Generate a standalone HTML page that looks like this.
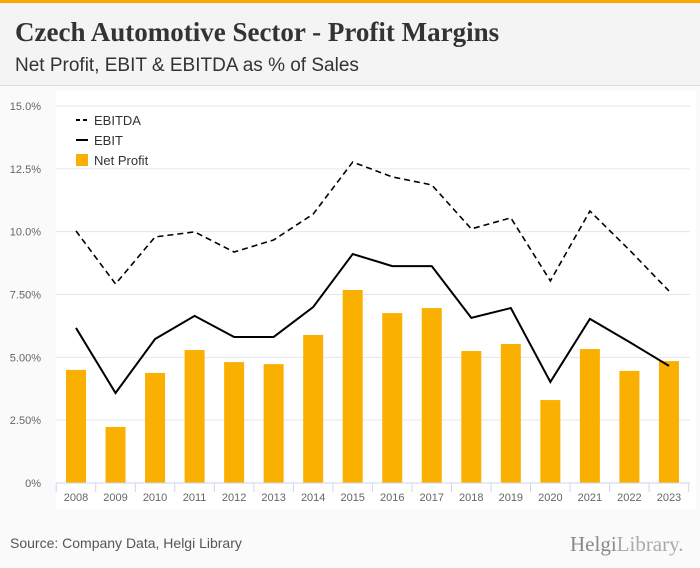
<!DOCTYPE html>
<html><head><meta charset="utf-8"><style>
html,body{margin:0;width:700px;height:568px;overflow:hidden}
body{background:#fafafa;font-family:"Liberation Sans",sans-serif;position:relative}
#top{position:absolute;left:0;top:0;width:700px;height:3px;background:#f5a800}
#hdr{position:absolute;left:0;top:3px;width:700px;height:82px;background:#f4f4f4;border-bottom:1px solid #ddd}
h1{position:absolute;left:15px;top:14px;margin:0;font:bold 27px "Liberation Serif",serif;color:#333;white-space:nowrap}
h2{position:absolute;left:15px;top:52px;margin:0;font:19px "Liberation Sans",sans-serif;color:#333;font-weight:normal;white-space:nowrap}
#src{position:absolute;left:10px;top:535px;font-size:14px;color:#555;white-space:nowrap}
#logo{position:absolute;left:570px;top:532px;font:21px "Liberation Serif",serif;color:#888;white-space:nowrap}
svg{position:absolute;left:0;top:0}
</style></head><body>
<div id="top"></div>
<div id="hdr">
<h1>Czech Automotive Sector - Profit Margins</h1>
<h2>Net Profit, EBIT &amp; EBITDA as % of Sales</h2></div>
<svg id="c" width="700" height="568"></svg>
<div id="src">Source: Company Data, Helgi Library</div>
<div id="logo">Helgi<span style="color:#aaa">Library.</span></div>
<script>
const years=[2008,2009,2010,2011,2012,2013,2014,2015,2016,2017,2018,2019,2020,2021,2022,2023];
const netProfit=[4.5,2.23,4.38,5.29,4.81,4.73,5.89,7.68,6.76,6.96,5.25,5.53,3.3,5.33,4.46,4.85];
const ebit=[6.17,3.58,5.73,6.65,5.81,5.81,7.0,9.11,8.63,8.63,6.57,6.96,4.02,6.53,5.61,4.66];
const ebitda=[10.03,7.92,9.79,9.99,9.19,9.67,10.7,12.77,12.18,11.86,10.11,10.55,8.04,10.82,9.27,7.64];
const yTicks=[0,2.5,5,7.5,10,12.5,15];
const yLabels=["0%","2.50%","5.00%","7.50%","10.0%","12.5%","15.0%"];
const ns="http://www.w3.org/2000/svg",svg=document.getElementById('c');
const y=v=>483-v*(377/15), x=i=>76+i*39.53;
function mk(t,a,p){const e=document.createElementNS(ns,t);for(const k in a)e.setAttribute(k,a[k]);(p||svg).appendChild(e);return e;}
mk('rect',{x:56,y:90,width:640,height:420,fill:'#fff'});
yTicks.forEach((v,i)=>{
 const g=mk('line',{x1:56,x2:690,y1:y(v),y2:y(v),stroke:'#e6e6e6'});
 
 const t=mk('text',{x:41,y:y(v)+4,'text-anchor':'end','font-size':11,fill:'#666'});t.textContent=yLabels[i];
 
});
years.forEach((yr,i)=>{
 const b=mk('rect',{x:x(i)-10,y:y(netProfit[i]),width:20,height:483-y(netProfit[i]),fill:'#f9b000'});
 
 const t=mk('text',{x:x(i),y:501,'text-anchor':'middle','font-size':11,fill:'#666'});t.textContent=yr;
 
 mk('line',{x1:x(i)-19.8,x2:x(i)-19.8,y1:483,y2:492,stroke:'#ccd6eb'});
});
mk('line',{x1:x(15)+19.8,x2:x(15)+19.8,y1:483,y2:492,stroke:'#ccd6eb'});
const ax=mk('line',{x1:56,x2:690,y1:483,y2:483,stroke:'#ccd6eb'});

const pts=a=>a.map((v,i)=>x(i)+','+y(v)).join(' ');
const l1=mk('polyline',{points:pts(ebit),fill:'none',stroke:'#000','stroke-width':2});

const l2=mk('polyline',{points:pts(ebitda),fill:'none',stroke:'#000','stroke-width':1.6,'stroke-dasharray':'6,4'});

const leg=[['EBITDA','dash'],['EBIT','line'],['Net Profit','box']];
leg.forEach((l,i)=>{
 const yy=120+i*20;
 if(l[1]=='box')mk('rect',{x:76,y:yy-6,width:12,height:12,fill:'#f9b000'});
 else mk('line',{x1:76,x2:88,y1:yy,y2:yy,stroke:'#000','stroke-width':2,'stroke-dasharray':l[1]=='dash'?'4,3':'none'});
 const t=mk('text',{x:94,y:yy+5,'font-size':13,fill:'#333'});t.textContent=l[0];
 
});
</script></body></html>
